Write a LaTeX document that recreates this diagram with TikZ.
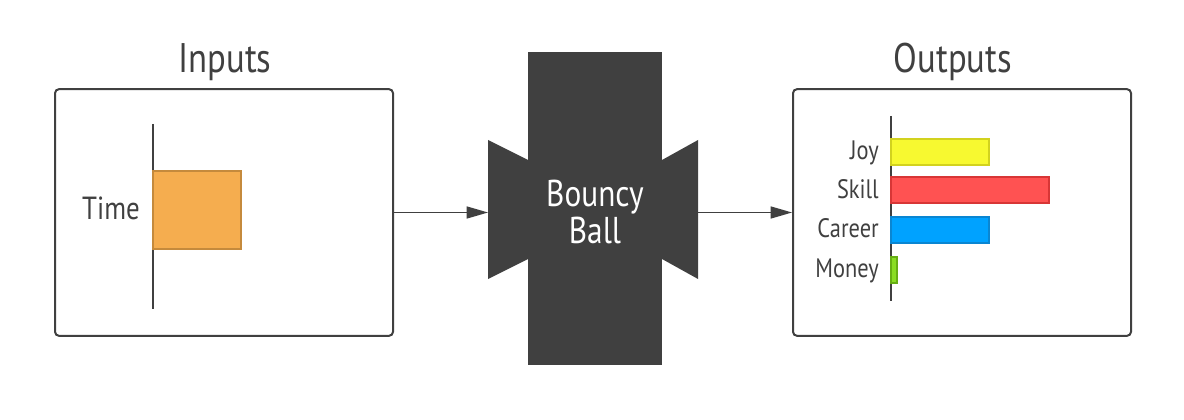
\documentclass[tikz,border=0pt]{standalone}
\usepackage{fontspec}
\setmainfont{PT Sans}[FakeStretch=0.84]
\usetikzlibrary{arrows.meta,positioning}
\definecolor{Oscuro}{HTML}{404040}
\definecolor{Naranja}{HTML}{F5AD4F}
\definecolor{NaranjaBorde}{HTML}{C58A3C}
\definecolor{Amarillo}{HTML}{F7F930}
\definecolor{AmarilloBorde}{HTML}{D2D21E}
\definecolor{Rojo}{HTML}{FF5252}
\definecolor{RojoBorde}{HTML}{D83636}
\definecolor{Azul}{HTML}{00A2FF}
\definecolor{AzulBorde}{HTML}{0A86D2}
\definecolor{Verde}{HTML}{8ADD24}
\definecolor{VerdeBorde}{HTML}{66AE14}

\begin{document}
\begin{tikzpicture}[
  x=0.75pt,y=-0.75pt,
  text=Oscuro,
  caja/.style={draw=Oscuro,line width=1.5pt,rounded corners=3pt,minimum width=253.5pt,minimum height=185pt,inner sep=0pt},
  titulo/.style={anchor=base,inner sep=0pt,font=\fontsize{31}{33}\selectfont},
  eje/.style={Oscuro,line width=1.5pt},
  barra/.style={line width=1.1pt,anchor=west,minimum height=19.5pt,inner sep=0pt,outer sep=0pt},
  etiq/.style={anchor=base east,inner sep=0pt,font=\fontsize{20}{22}\selectfont},
  arr/.style={-{Triangle[length=16pt,width=9pt]},Oscuro,line width=1.1pt}
]
  \useasboundingbox (0,0) rectangle (1184,420);

  % entradas
  \node[caja] (inbox) at (224,212.5) {};
  \node[titulo] (intitle) at (225,73) {Inputs};
  \draw[eje] (153,124) -- (153,309);
  \node[barra,fill=Naranja,draw=NaranjaBorde,minimum width=66pt,minimum height=58.5pt] (tiempo) at (153,210) {};
  \node[etiq,font=\fontsize{24}{26}\selectfont] (tlabel) at (140,220) {Time};

  % caja negra
  \fill[Oscuro] (528,52) rectangle (662,365);
  \fill[Oscuro] (488,140) -- (528,160) -- (528,259) -- (488,279) -- cycle;
  \fill[Oscuro] (698,140) -- (662,160) -- (662,259) -- (698,279) -- cycle;
  \node[text=white,align=center,font=\fontsize{28}{28}\selectfont] (bola) at (595,212) {Bouncy\\Ball};
  \coordinate (entra) at (488,212.5);
  \coordinate (sale) at (698,212.5);

  % salidas
  \node[caja] (outbox) at (962,212.5) {};
  \node[titulo] (outtitle) at (953,73) {Outputs};
  \draw[eje] (891,116) -- (891,301);
  \node[barra,fill=Amarillo,draw=AmarilloBorde,minimum width=73.5pt] (joy) at (891,152) {};
  \node[barra,fill=Rojo,draw=RojoBorde,minimum width=118.5pt] (skill) at (891,190) {};
  \node[barra,fill=Azul,draw=AzulBorde,minimum width=73.5pt] (career) at (891,230) {};
  \node[barra,fill=Verde,draw=VerdeBorde,minimum width=4.5pt] (money) at (891,270) {};
  \node[etiq] (joylabel) at (879,160) {Joy};
  \node[etiq] (skilllabel) at (879,199) {Skill};
  \node[etiq] (careerlabel) at (879,238) {Career};
  \node[etiq] (moneylabel) at (879,277) {Money};

  \draw[arr] (inbox.east) -- (entra);
  \draw[arr] (sale) -- (outbox.west);
\end{tikzpicture}
\end{document}
